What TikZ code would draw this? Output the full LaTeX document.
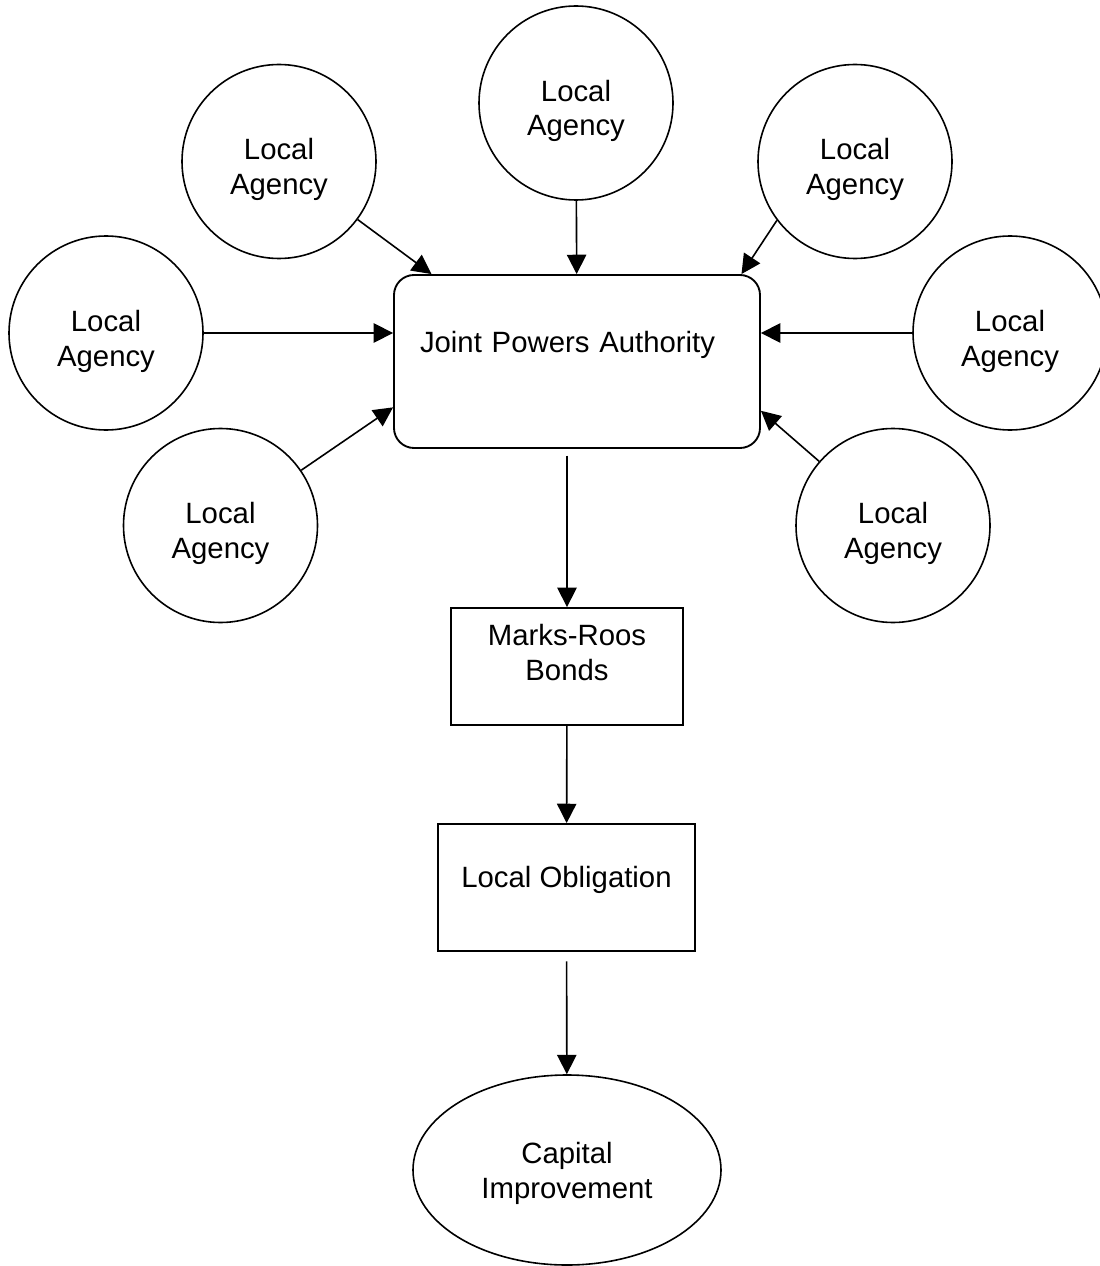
\documentclass[tikz,border=0pt]{standalone}
\usepackage{fontspec}
\setmainfont{Liberation Sans}
\usetikzlibrary{shapes.geometric, arrows.meta}

\begin{document}
\begin{tikzpicture}[x=0.75pt, y=-0.75pt,
  every node/.style={font=\fontsize{22}{26}\selectfont},
  agency/.style={draw, circle, line width=1.2pt, minimum size=145.5pt, inner sep=0pt,
    align=center, text height=49.5pt, text depth=0pt},
  box/.style={draw, rectangle, line width=1.4pt, inner ysep=0pt, align=center},
  arr/.style={line width=1.2pt, -{Triangle[length=14.5pt, width=14.5pt]}}]
  \useasboundingbox (0, 0) rectangle (1099, 1266);

  % Local agencies
  \node[agency] (la1) at (576, 103) {Local\\Agency};
  \node[agency] (la2) at (279, 161.5) {Local\\Agency};
  \node[agency] (la3) at (855, 161.5) {Local\\Agency};
  \node[agency] (la4) at (106, 333) {Local\\Agency};
  \node[agency] (la5) at (1010, 333) {Local\\Agency};
  \node[agency] (la6) at (220.5, 525.5) {Local\\Agency};
  \node[agency] (la7) at (893, 525.5) {Local\\Agency};

  % Authority
  \node[box, rounded corners=15pt, align=left, text width=235.5pt, inner xsep=19.5pt,
    text height=57.75pt, text depth=72pt] (jpa) at (577, 361.5) {Joint Powers Authority};

  % Chain below
  \node[box, minimum width=174pt, text height=54pt, text depth=33.75pt]
    (mr) at (567, 666.5) {Marks-Roos\\Bonds};
  \node[box, minimum width=192.75pt, text height=47.25pt, text depth=48pt]
    (lo) at (566.5, 887.5) {Local Obligation};
  \node[draw, ellipse, line width=1.2pt, minimum width=231pt, minimum height=142.5pt,
    align=center, text height=45pt, text depth=3pt] (ci) at (567, 1170) {Capital\\Improvement};

  % Arrows into the authority
  \draw[arr] (la1) -- (jpa);
  \draw[arr] (la2) -- (jpa.149.5);
  \draw[arr] (la3.217) -- (jpa.28.1);
  \draw[arr] (la4) -- (la4 -| jpa.west);
  \draw[arr] (la5) -- (la5 -| jpa.east);
  \draw[arr] (la6) -- (jpa.194.8);
  \draw[arr] (la7) -- (jpa.345.2);

  % Arrows down
  \draw[arr, shorten <=5pt] (jpa.south -| mr) -- (mr);
  \draw[arr] (mr) -- (lo);
  \draw[arr, shorten <=7pt] (lo) -- (ci);
\end{tikzpicture}
\end{document}
